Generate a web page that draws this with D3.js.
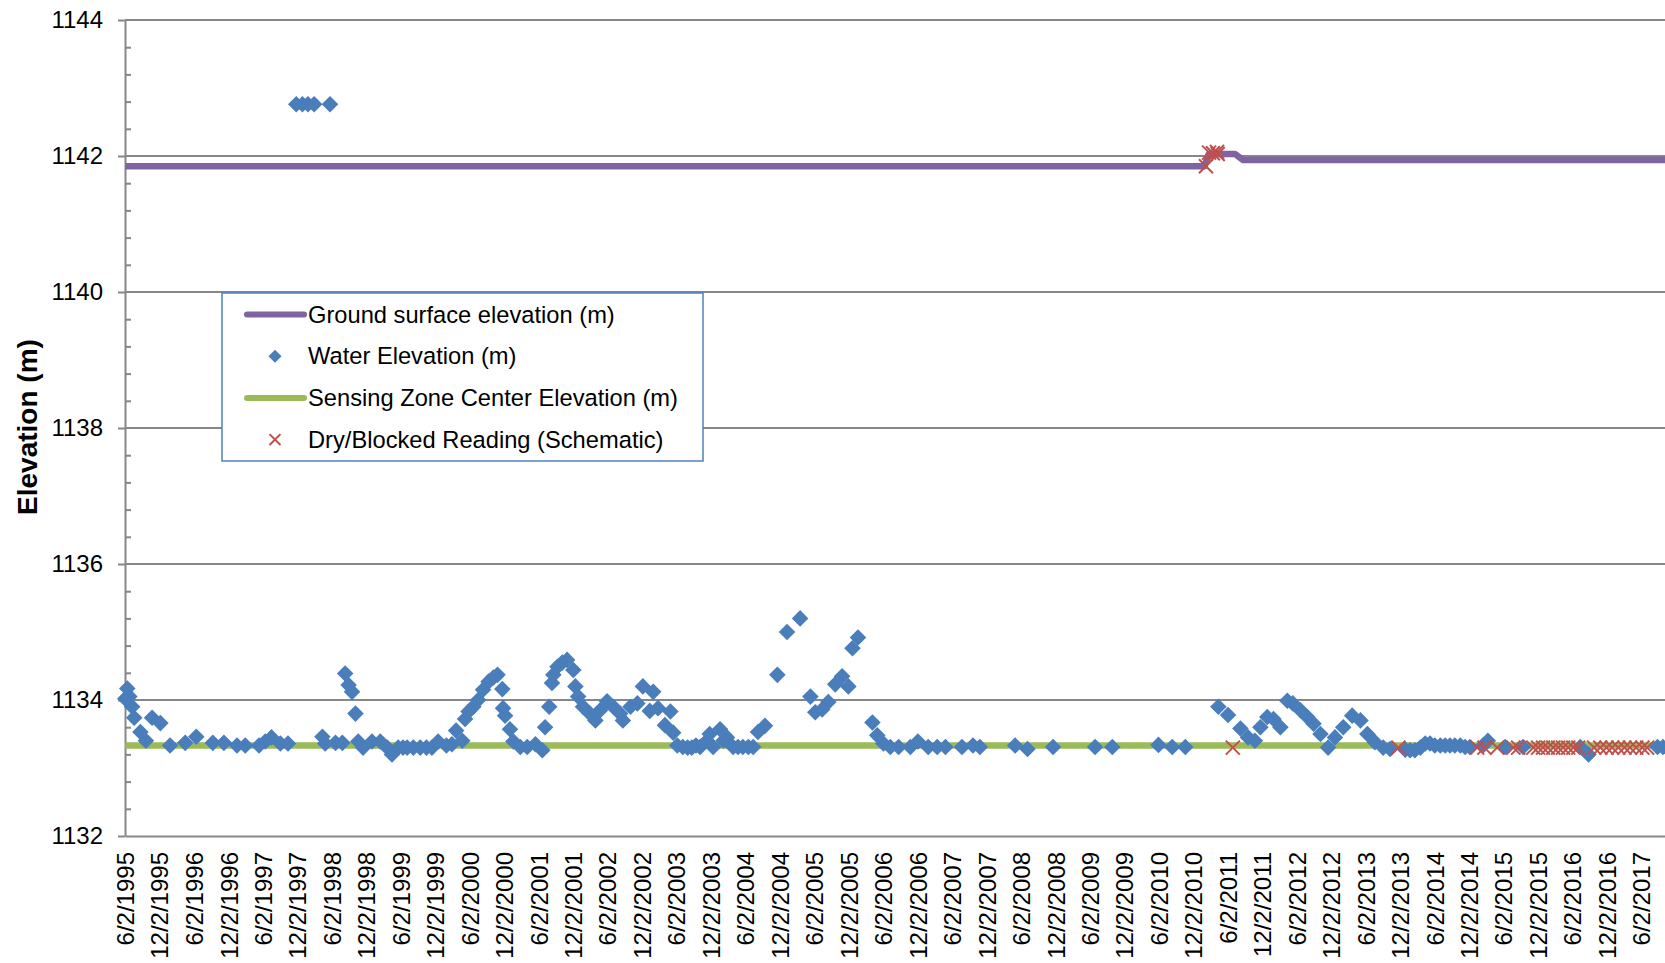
<!DOCTYPE html>
<html>
<head>
<meta charset="utf-8">
<script src="https://cdn.jsdelivr.net/npm/d3@7"></script>
<style>
  body { margin: 0; background: #fff; }
  text { font-family: "Liberation Sans", Arial, sans-serif; }
</style>
</head>
<body>
<div id="chart"></div>
<script>
// water elevation readings (decimal year, metres)
const waterYears = [
  1995.42, 1995.45, 1995.48, 1995.52, 1995.55, 1995.64, 1995.72, 1995.81, 1995.93, 1996.07,
  1996.29, 1996.45, 1996.69, 1996.85, 1997.04, 1997.16, 1997.36, 1997.45, 1997.54, 1997.67,
  1997.78, 1997.90, 1997.99, 1998.07, 1998.16, 1998.28, 1998.32, 1998.39, 1998.47, 1998.57,
  1998.61, 1998.66, 1998.71, 1998.76, 1998.80, 1998.87, 1999.00, 1999.12, 1999.22, 1999.29,
  1999.38, 1999.45, 1999.51, 1999.60, 1999.70, 1999.79, 1999.87, 1999.96, 2000.08, 2000.16,
  2000.22, 2000.31, 2000.35, 2000.40, 2000.47, 2000.54, 2000.61, 2000.69, 2000.76, 2000.82,
  2000.89, 2000.90, 2000.93, 2001.00, 2001.05, 2001.15, 2001.25, 2001.37, 2001.47, 2001.51,
  2001.57, 2001.61, 2001.63, 2001.69, 2001.76, 2001.83, 2001.92, 2001.95, 2001.99, 2002.06,
  2002.16, 2002.24, 2002.31, 2002.41, 2002.50, 2002.60, 2002.64, 2002.75, 2002.85, 2002.93,
  2003.03, 2003.08, 2003.15, 2003.25, 2003.33, 2003.37, 2003.43, 2003.51, 2003.58, 2003.64,
  2003.70, 2003.76, 2003.86, 2003.90, 2003.95, 2004.05, 2004.10, 2004.15, 2004.24, 2004.31,
  2004.38, 2004.46, 2004.53, 2004.60, 2004.70, 2004.88, 2005.02, 2005.21, 2005.36, 2005.43,
  2005.53, 2005.62, 2005.72, 2005.82, 2005.91, 2005.97, 2006.05, 2006.26, 2006.33, 2006.42,
  2006.52, 2006.64, 2006.81, 2006.92, 2007.07, 2007.20, 2007.32, 2007.56, 2007.72, 2007.82,
  2008.33, 2008.51, 2008.88, 2009.49, 2009.74, 2010.41, 2010.61, 2010.80, 2011.28, 2011.42,
  2011.60, 2011.71, 2011.81, 2011.89, 2011.99, 2012.08, 2012.18, 2012.28, 2012.36, 2012.47,
  2012.57, 2012.66, 2012.76, 2012.87, 2012.97, 2013.09, 2013.22, 2013.34, 2013.44, 2013.55,
  2013.67, 2013.77, 2013.99, 2014.06, 2014.13, 2014.21, 2014.28, 2014.35, 2014.42, 2014.50,
  2014.57, 2014.64, 2014.71, 2014.79, 2014.86, 2014.93, 2015.12, 2015.19, 2015.44, 2015.70,
  2016.53, 2016.65, 2017.65, 2017.73
];
const waterElev = [
  1134.02, 1134.17, 1134.05, 1133.90, 1133.74, 1133.53, 1133.40, 1133.74, 1133.66, 1133.33,
  1133.37, 1133.46, 1133.37, 1133.37, 1133.33, 1133.33, 1133.33, 1133.39, 1133.45, 1133.36,
  1133.36, 1142.76, 1142.76, 1142.76, 1142.76, 1133.46, 1133.36, 1142.76, 1133.37, 1133.37,
  1134.39, 1134.22, 1134.12, 1133.80, 1133.39, 1133.30, 1133.39, 1133.39, 1133.30, 1133.20,
  1133.30, 1133.30, 1133.30, 1133.30, 1133.30, 1133.30, 1133.30, 1133.39, 1133.33, 1133.35,
  1133.55, 1133.40, 1133.72, 1133.83, 1133.90, 1134.00, 1134.15, 1134.27, 1134.33, 1134.37,
  1134.16, 1133.88, 1133.77, 1133.57, 1133.39, 1133.31, 1133.31, 1133.35, 1133.26, 1133.60,
  1133.90, 1134.25, 1134.37, 1134.49, 1134.55, 1134.59, 1134.44, 1134.20, 1134.05, 1133.90,
  1133.80, 1133.70, 1133.85, 1133.98, 1133.90, 1133.80, 1133.70, 1133.90, 1133.95, 1134.20,
  1133.84, 1134.12, 1133.88, 1133.63, 1133.83, 1133.52, 1133.33, 1133.31, 1133.30, 1133.30,
  1133.33, 1133.31, 1133.40, 1133.50, 1133.31, 1133.57, 1133.40, 1133.45, 1133.31, 1133.31,
  1133.31, 1133.31, 1133.31, 1133.53, 1133.62, 1134.37, 1135.00, 1135.20, 1134.05, 1133.82,
  1133.86, 1133.97, 1134.23, 1134.35, 1134.20, 1134.76, 1134.92, 1133.67, 1133.48, 1133.36,
  1133.31, 1133.31, 1133.31, 1133.39, 1133.31, 1133.31, 1133.31, 1133.31, 1133.33, 1133.31,
  1133.33, 1133.28, 1133.31, 1133.31, 1133.31, 1133.34, 1133.31, 1133.31, 1133.90, 1133.78,
  1133.58, 1133.45, 1133.40, 1133.60, 1133.75, 1133.72, 1133.60, 1133.99, 1133.95, 1133.85,
  1133.75, 1133.65, 1133.50, 1133.30, 1133.45, 1133.60, 1133.77, 1133.70, 1133.50, 1133.38,
  1133.30, 1133.28, 1133.27, 1133.26, 1133.26, 1133.30, 1133.36, 1133.36, 1133.33, 1133.33,
  1133.33, 1133.33, 1133.33, 1133.33, 1133.31, 1133.31, 1133.33, 1133.40, 1133.31, 1133.31,
  1133.31, 1133.20, 1133.31, 1133.31
];

// ground surface elevation
const groundYears = [1995.42, 2011.08, 2011.14, 2011.52, 2011.64, 2017.90];
const groundElev  = [1141.85, 1141.85, 1142.03, 1142.03, 1141.94, 1141.94];

// sensing zone center elevation
const sensingYears = [1995.42, 2017.90];
const sensingElev  = [1133.33, 1133.33];

// dry / blocked readings (schematic)
const dryYears = [
  2011.10, 2011.145, 2011.20, 2011.26, 2011.27, 2011.49, 2013.89, 2015.035, 2015.14, 2015.325,
  2015.56, 2015.63, 2015.85, 2015.92, 2015.99, 2016.06, 2016.14, 2016.21, 2016.28, 2016.355,
  2016.43, 2016.50, 2016.73, 2016.82, 2016.91, 2016.99, 2017.08, 2017.17, 2017.25, 2017.34,
  2017.43, 2017.50
];
const dryElev = [
  1141.85, 1142.05, 1142.04, 1142.06, 1142.03, 1133.30, 1133.30, 1133.30, 1133.30, 1133.30,
  1133.30, 1133.30, 1133.30, 1133.30, 1133.30, 1133.30, 1133.30, 1133.30, 1133.30, 1133.30,
  1133.30, 1133.30, 1133.30, 1133.30, 1133.30, 1133.30, 1133.30, 1133.30, 1133.30, 1133.30,
  1133.30, 1133.30
];

const yMajor = [1132, 1134, 1136, 1138, 1140, 1142, 1144];
const legendLabels = [
  "Ground surface elevation (m)",
  "Water Elevation (m)",
  "Sensing Zone Center Elevation (m)",
  "Dry/Blocked Reading (Schematic)"
];

const width = 1665, height = 963;
const plot = {left: 125, right: 1665, top: 20, bottom: 836};
const colors = {ground: "#8064A2", water: "#4A7EBB", sensing: "#9BBB59", dry: "#C0504D", grid: "#878787"};

function toDate(yr) {
  const y0 = Math.floor(yr);
  const a = new Date(y0, 0, 1), b = new Date(y0 + 1, 0, 1);
  return new Date(+a + (yr - y0) * (b - a));
}
const zip = (xs, ys) => xs.map((v, i) => ({date: toDate(v), value: ys[i]}));

const water = zip(waterYears, waterElev);
const ground = zip(groundYears, groundElev);
const sensing = zip(sensingYears, sensingElev);
const dry = zip(dryYears, dryElev);

const svg = d3.select("#chart").append("svg")
  .attr("width", width)
  .attr("height", height);

const x = d3.scaleTime()
  .domain([new Date(1995, 5, 2), new Date(2017, 9, 5)])
  .range([plot.left, plot.right]);
const y = d3.scaleLinear()
  .domain([1132, 1144])
  .range([plot.bottom, plot.top]);

// gridlines
svg.append("g")
  .selectAll("line")
  .data(yMajor.slice(1))
  .enter()
  .append("line")
  .attr("x1", plot.left)
  .attr("x2", plot.right)
  .attr("y1", d => y(d))
  .attr("y2", d => y(d))
  .attr("stroke", colors.grid)
  .attr("stroke-width", 1.8);

// x axis
const tickDates = d3.range(45).map(i => new Date(1995, 5 + 6 * i, 2));
const xAxis = svg.append("g")
  .attr("transform", `translate(0, ${plot.bottom})`)
  .call(d3.axisBottom(x).tickValues(tickDates).tickSize(0).tickSizeOuter(0)
    .tickFormat(d3.timeFormat("%-m/%-d/%Y")));
xAxis.select(".domain").attr("stroke", colors.grid).attr("stroke-width", 2);
xAxis.selectAll("text")
  .attr("transform", "rotate(-90)")
  .attr("x", -16)
  .attr("y", 0)
  .attr("dy", "0.35em")
  .style("text-anchor", "end")
  .style("font-size", "24px")
  .style("fill", "#000");

// y axis
const yAxis = svg.append("g")
  .attr("transform", `translate(${plot.left}, 0)`)
  .call(d3.axisLeft(y).tickValues(yMajor).tickSize(7).tickSizeOuter(0).tickPadding(15)
    .tickFormat(d3.format("d")));
yAxis.select(".domain").attr("stroke", colors.grid).attr("stroke-width", 2);
yAxis.selectAll(".tick line").attr("stroke", colors.grid).attr("stroke-width", 2);
yAxis.selectAll("text").style("font-size", "24px").style("fill", "#000");

const minor = d3.range(1132, 1144.001, 0.4).filter(v => Math.abs(v / 2 - Math.round(v / 2)) > 0.01);
svg.append("g")
  .attr("transform", `translate(${plot.left}, 0)`)
  .call(d3.axisRight(y).tickValues(minor).tickSize(6).tickFormat(""))
  .call(g => g.select(".domain").remove())
  .selectAll(".tick line").attr("stroke", colors.grid).attr("stroke-width", 2);

svg.append("text")
  .attr("transform", "translate(36.5, 427) rotate(-90)")
  .attr("text-anchor", "middle")
  .style("font-size", "28px")
  .style("font-weight", "bold")
  .text("Elevation (m)");

// series
const line = d3.line().x(d => x(d.date)).y(d => y(d.value));

svg.append("path")
  .datum(sensing)
  .attr("d", line)
  .attr("fill", "none")
  .attr("stroke", colors.sensing)
  .attr("stroke-width", 6.5);

svg.append("path")
  .datum(ground)
  .attr("d", line)
  .attr("fill", "none")
  .attr("stroke", colors.ground)
  .attr("stroke-width", 6.5)
  .attr("stroke-linejoin", "round");

const diamond = d3.symbol().type(d3.symbolDiamond2).size(175);
svg.append("g")
  .selectAll("path")
  .data(water)
  .enter()
  .append("path")
  .attr("d", diamond)
  .attr("transform", d => `translate(${x(d.date)}, ${y(d.value)})`)
  .attr("fill", colors.water);

const cross = d3.symbol().type(d3.symbolX).size(130);
svg.append("g")
  .selectAll("path")
  .data(dry)
  .enter()
  .append("path")
  .attr("d", cross)
  .attr("transform", d => `translate(${x(d.date)}, ${y(d.value)})`)
  .attr("fill", "none")
  .attr("stroke", colors.dry)
  .attr("stroke-width", 2);

// legend
const legend = svg.append("g").attr("transform", "translate(222, 293)");
legend.append("rect")
  .attr("width", 481)
  .attr("height", 168)
  .attr("fill", "#fff")
  .attr("stroke", "#4F81BD")
  .attr("stroke-width", 1.5);

const rows = legend.selectAll(".row")
  .data(legendLabels)
  .enter()
  .append("g")
  .attr("class", "row")
  .attr("transform", (d, i) => `translate(0, ${21.5 + i * 41.7})`);

rows.append("text")
  .attr("x", 86)
  .attr("dy", "0.35em")
  .style("font-size", "23.7px")
  .text(d => d);

rows.filter((d, i) => i === 0 || i === 2)
  .append("line")
  .attr("x1", 25)
  .attr("x2", 82)
  .attr("stroke", (d, i) => i === 0 ? colors.ground : colors.sensing)
  .attr("stroke-width", 6)
  .attr("stroke-linecap", "round");

rows.filter((d, i) => i === 1)
  .append("path")
  .attr("d", d3.symbol().type(d3.symbolDiamond2).size(110))
  .attr("transform", "translate(53, 0)")
  .attr("fill", colors.water);

rows.filter((d, i) => i === 3)
  .append("path")
  .attr("d", d3.symbol().type(d3.symbolX).size(80))
  .attr("transform", "translate(53, 0)")
  .attr("fill", "none")
  .attr("stroke", colors.dry)
  .attr("stroke-width", 2);
</script>
</body>
</html>
